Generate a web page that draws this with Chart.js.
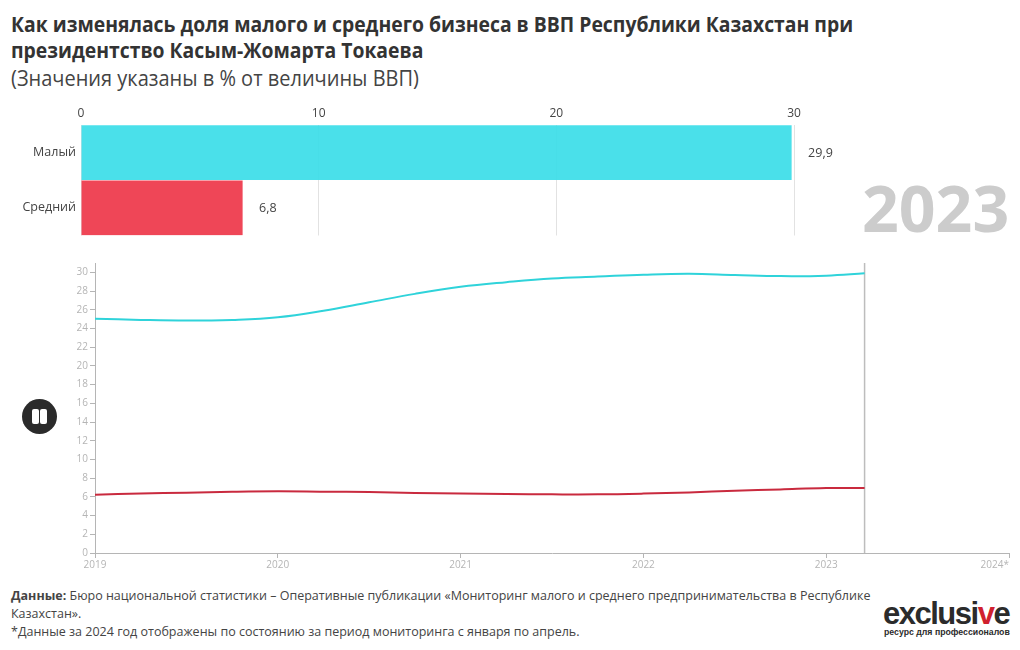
<!DOCTYPE html>
<html lang="ru"><head><meta charset="utf-8">
<script src="https://cdn.jsdelivr.net/npm/chart.js@4"></script>
<style>
html,body{margin:0;padding:0;background:#fff;width:1020px;height:650px;overflow:hidden;font-family:"Open Sans","Noto Sans",sans-serif}
.t{position:absolute;white-space:nowrap;transform-origin:0 0}
canvas{position:absolute}
#c1{left:0;top:100px}
#c2{left:0;top:255px}
#pause{position:absolute;left:22px;top:399px;width:35px;height:35px;border-radius:50%;background:#2b2b2b}
#pause i{position:absolute;top:10px;width:7px;height:15px;background:#fff;border-radius:2px}
</style></head><body>
<div class="t" style="left:11px;top:11px;font:700 20.5px/26px 'Open Sans';color:#333;transform:scaleX(.944)">Как изменялась доля малого и среднего бизнеса в ВВП Республики Казахстан при</div>
<div class="t" style="left:11px;top:37px;font:700 20.5px/26px 'Open Sans';color:#333;transform:scaleX(.944)">президентство Касым-Жомарта Токаева</div>
<div class="t" style="left:11px;top:65px;font:400 21px/26px 'Open Sans';color:#444;transform:scaleX(.952)">(Значения указаны в % от величины ВВП)</div>
<canvas id="c1" width="1020" height="148" style="width:1020px;height:148px"></canvas>
<canvas id="c2" width="1020" height="320" style="width:1020px;height:320px"></canvas>
<div id="pause"><i style="left:10px"></i><i style="left:18px"></i></div>
<div class="t" style="left:11px;top:586px;font:400 12.5px/19px 'Open Sans';color:#444"><b>Данные:</b> Бюро национальной статистики – Оперативные публикации «Мониторинг малого и среднего предпринимательства в Республике</div>
<div class="t" style="left:11px;top:604px;font:400 12.5px/19px 'Open Sans';color:#444">Казахстан».</div>
<div class="t" style="left:11px;top:622px;font:400 12.5px/19px 'Open Sans';color:#444">*Данные за 2024 год отображены по состоянию за период мониторинга с января по апрель.</div>
<div class="t" style="left:883px;top:597px;font:700 31px/34px 'Liberation Sans';letter-spacing:-1.5px;color:#2b2b2b">exclusi<span style="color:#d0202e">v</span>e</div>
<div class="t" style="left:884px;top:627px;font:700 9px/11px 'Liberation Sans';color:#2b2b2b;transform:scaleX(.97)">ресурс для профессионалов</div>
<script>
const FONT = "'Open Sans'";
const categories = ['Малый', 'Средний'];
const barValues = [29.9, 6.8];
const barLabels = ['29,9', '6,8'];
const barColors = ['rgba(60,222,232,0.93)', 'rgba(238,60,78,0.95)'];
const barTicks = [0, 10, 20, 30];

const lineYears = [2019, 2019.25, 2019.5, 2019.75, 2020, 2020.25, 2020.5, 2020.75, 2021, 2021.25, 2021.5, 2021.75, 2022, 2022.25, 2022.5, 2022.75, 2023, 2023.21];
const smallShare = [25.05, 24.92, 24.85, 24.92, 25.2, 25.9, 26.8, 27.7, 28.45, 28.95, 29.35, 29.55, 29.75, 29.85, 29.72, 29.6, 29.65, 29.9];
const mediumShare = [6.24, 6.35, 6.45, 6.55, 6.6, 6.56, 6.52, 6.42, 6.35, 6.3, 6.27, 6.27, 6.35, 6.48, 6.65, 6.8, 6.95, 6.95];
const cursorYear = 2023.21;
const yearTicks = [2019, 2020, 2021, 2022, 2023, 2024];
const yearLabels = ['2019', '2020', '2021', '2022', '2023', '2024*'];
const shareTicks = [0, 2, 4, 6, 8, 10, 12, 14, 16, 18, 20, 22, 24, 26, 28, 30];

const barExtras = {
  id: 'barExtras',
  afterDatasetsDraw(chart) {
    const {ctx, scales: {x, y}} = chart;
    ctx.save();
    ctx.font = `12.5px ${FONT}`; ctx.fillStyle = '#444'; ctx.textBaseline = 'middle';
    barValues.forEach((v, i) => ctx.fillText(barLabels[i], x.getPixelForValue(v) + 16.5, y.getPixelForValue(i) + 1));
    ctx.restore();
  }
};
new Chart(document.getElementById('c1'), {
  type: 'bar',
  data: {labels: categories, datasets: [{data: barValues, backgroundColor: barColors, barPercentage: 0.99, categoryPercentage: 1}]},
  plugins: [barExtras],
  options: {
    indexAxis: 'y', responsive: false, animation: false,
    layout: {padding: {left: 0, right: 226, top: 0, bottom: 5}},
    plugins: {legend: {display: false}, tooltip: {enabled: false}},
    scales: {
      x: {position: 'top', min: 0, max: 30,
        afterBuildTicks(s) { s.ticks = barTicks.map(value => ({value})); },
        afterFit(s) { s.height = 25; },
        grid: {color: '#e2e2e2', drawTicks: false, tickLength: 0},
        border: {display: false},
        ticks: {color: '#444', font: {family: FONT, size: 12}, padding: 4, maxRotation: 0}},
      y: {afterFit(s) { s.width = 81; },
        grid: {display: false, drawTicks: false, tickLength: 0}, border: {display: false},
        ticks: {color: '#444', font: {family: FONT, size: 12.5}, padding: 5}}
    }
  }
});

const lineExtras = {
  id: 'lineExtras',
  afterDraw(chart) {
    const {ctx, scales: {x}} = chart;
    ctx.save();
    ctx.font = `10px ${FONT}`; ctx.fillStyle = '#b5b5b5'; ctx.textAlign = 'right'; ctx.textBaseline = 'top';
    ctx.fillText(yearLabels[5], x.getPixelForValue(yearTicks[5]), x.top + 7);
    ctx.restore();
  }
};
new Chart(document.getElementById('c2'), {
  type: 'line',
  data: {datasets: [
    {data: lineYears.map((x, i) => ({x, y: smallShare[i]})), borderColor: '#2fd3da', borderWidth: 2, pointRadius: 0, tension: 0.4},
    {data: lineYears.map((x, i) => ({x, y: mediumShare[i]})), borderColor: '#c92a3e', borderWidth: 2, pointRadius: 0, tension: 0.4},
    {data: [{x: cursorYear, y: 0}, {x: cursorYear, y: 31}], borderColor: '#bdbdbd', borderWidth: 1.5, pointRadius: 0}
  ]},
  plugins: [lineExtras],
  options: {
    responsive: false, animation: false, clip: false,
    layout: {padding: {left: 0, right: 11, top: 4, bottom: 0}},
    plugins: {legend: {display: false}, tooltip: {enabled: false}},
    scales: {
      x: {type: 'linear', min: 2019, max: 2024,
        afterBuildTicks(s) { s.ticks = yearTicks.map(value => ({value})); },
        afterFit(s) { s.height = 22; },
        grid: {display: true, drawOnChartArea: false, color: '#b5b5b5', tickLength: 5},
        border: {color: '#b5b5b5', width: 1},
        ticks: {color: '#b5b5b5', font: {family: FONT, size: 10}, padding: 1, maxRotation: 0, autoSkip: false,
          callback: v => { const i = yearTicks.indexOf(v); return i < 5 ? yearLabels[i] : ' '; }}},
      y: {min: 0, max: 31,
        afterBuildTicks(s) { s.ticks = shareTicks.map(value => ({value})); },
        afterFit(s) { s.width = 95; },
        grid: {display: true, drawOnChartArea: false, color: '#b5b5b5', tickLength: 5},
        border: {color: '#b5b5b5', width: 1},
        ticks: {color: '#b5b5b5', font: {family: FONT, size: 10}, padding: 2, autoSkip: false}}
    }
  }
});
</script>
<div class="t" style="left:862px;top:169px;font:700 65px/76px 'Open Sans';color:#cccccc;transform:scaleX(.99)">2023</div>
</body></html>
